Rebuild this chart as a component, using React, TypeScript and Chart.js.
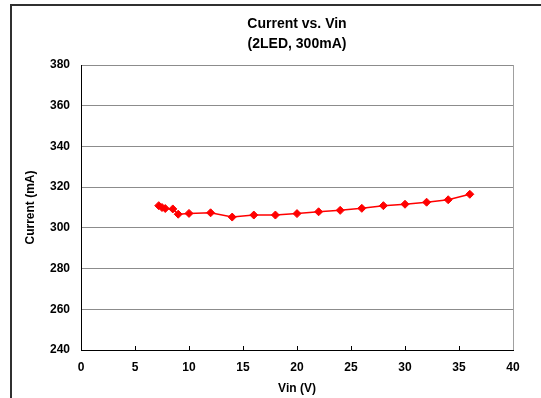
import React, { useEffect, useRef } from "react";
import { Chart, registerables } from "chart.js";

Chart.register(...registerables);

const vin = [7.2, 7.5, 7.8, 8.5, 9, 10, 12, 14, 16, 18, 20, 22, 24, 26, 28, 30, 32, 34, 36];
const current = [310.9, 310.0, 309.5, 309.3, 306.7, 307.1, 307.4, 305.3, 306.3, 306.3, 307.0, 307.9, 308.6, 309.6, 310.9, 311.6, 312.6, 313.8, 316.5];

const titleLines = ["Current vs. Vin", "(2LED, 300mA)"];
const xTitle = "Vin (V)";
const yTitle = "Current (mA)";
const xMin = 0, xMax = 40, xStep = 5;
const yMin = 240, yMax = 380, yStep = 20;

const FONT = "'Liberation Sans', Arial, sans-serif";

const framePlugin = {
  id: "frame",
  beforeDraw(chart: any) {
    const ctx = chart.ctx;
    ctx.save();
    ctx.fillStyle = "#ffffff";
    ctx.fillRect(0, 0, chart.width, chart.height);
    ctx.strokeStyle = "#303030";
    ctx.lineWidth = 2;
    ctx.beginPath();
    ctx.moveTo(11, chart.height);
    ctx.lineTo(11, 5);
    ctx.lineTo(chart.width, 5);
    ctx.stroke();
    ctx.restore();
  },
  afterDatasetsDraw(chart: any) {
    const { ctx, chartArea } = chart;
    ctx.save();
    ctx.strokeStyle = "#a0a0a0";
    ctx.lineWidth = 1;
    ctx.beginPath();
    ctx.moveTo(Math.round(chartArea.right) + 0.5, chartArea.top);
    ctx.lineTo(Math.round(chartArea.right) + 0.5, chartArea.bottom);
    ctx.stroke();
    ctx.restore();
  },
};

export default function App() {
  const ref = useRef<HTMLCanvasElement>(null);
  useEffect(() => {
    if (!ref.current) return;
    const chart = new Chart(ref.current, {
      type: "scatter",
      data: {
        datasets: [
          {
            data: vin.map((x, i) => ({ x, y: current[i] })),
            showLine: true,
            borderColor: "#ff0000",
            backgroundColor: "#ff0000",
            borderWidth: 1.5,
            pointStyle: "rectRot",
            pointRadius: 4,
            pointBorderWidth: 1,
            pointBackgroundColor: "#ff0000",
            pointBorderColor: "#ff0000",
          },
        ],
      },
      options: {
        responsive: false,
        animation: false,
        layout: { padding: { left: 0, right: 28, top: 0, bottom: 0 } },
        plugins: {
          legend: { display: false },
          tooltip: { enabled: false },
          title: {
            display: true,
            fullSize: false,
            text: titleLines,
            color: "#000",
            font: { family: FONT, size: 14, weight: "bold", lineHeight: 20 / 14 },
            padding: { top: 14, bottom: 11 },
          },
        },
        scales: {
          x: {
            type: "linear",
            min: xMin,
            max: xMax,
            ticks: {
              stepSize: xStep,
              color: "#000",
              font: { family: FONT, size: 12, weight: "bold" },
              padding: 14,
              maxRotation: 0,
            },
            grid: { drawOnChartArea: false, drawTicks: true, tickLength: -4, color: "#000" },
            border: { color: "#000", width: 1 },
            title: {
              display: true,
              text: xTitle,
              color: "#000",
              font: { family: FONT, size: 12, weight: "bold" },
              padding: { top: 0, bottom: 2 },
            },
            afterFit(scale: any) {
              scale.height = 48;
            },
          },
          y: {
            type: "linear",
            min: yMin,
            max: yMax,
            ticks: {
              stepSize: yStep,
              color: "#000",
              font: { family: FONT, size: 12, weight: "bold" },
              padding: 11,
            },
            grid: { drawTicks: false, color: "#8c8c8c" },
            border: { color: "#000", width: 1 },
            title: {
              display: true,
              text: yTitle,
              color: "#000",
              font: { family: FONT, size: 12, weight: "bold" },
              padding: { top: 23, bottom: 0 },
            },
            afterFit(scale: any) {
              scale.width = 81;
            },
          },
        },
      },
      plugins: [framePlugin],
    });
    return () => chart.destroy();
  }, []);
  return (
    <div style={{ position: "absolute", left: 0, top: 0, width: 541, height: 398 }}>
      <canvas ref={ref} width={541} height={398} />
    </div>
  );
}
